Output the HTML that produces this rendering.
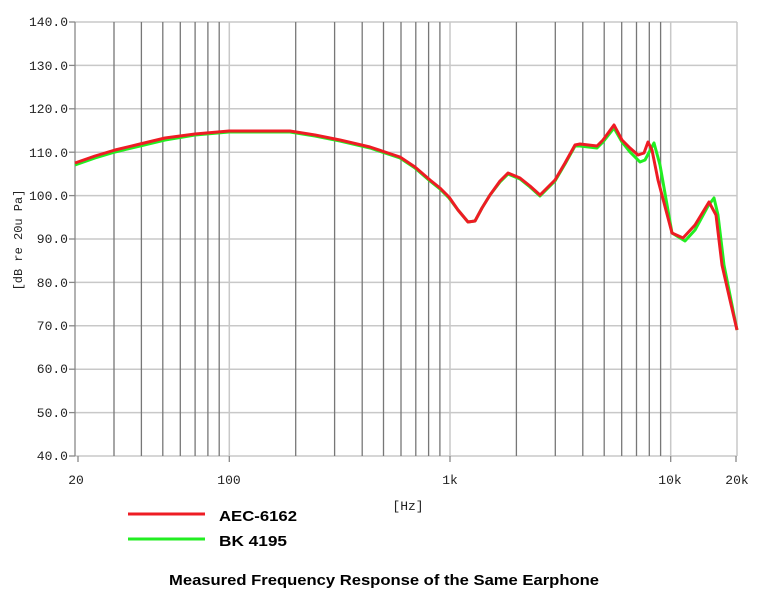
<!DOCTYPE html>
<html><head><meta charset="utf-8"><style>
body{margin:0;background:#fff;width:757px;height:598px;overflow:hidden}
.m{font-family:"Liberation Mono",monospace}
.s{font-family:"Liberation Sans",sans-serif;font-weight:bold}
</style></head><body>
<svg width="757" height="598" viewBox="0 0 757 598" xmlns="http://www.w3.org/2000/svg">
<rect width="757" height="598" fill="#fff"/>
<g stroke="#c8c8c8" stroke-width="1.5">
<line x1="75" y1="22" x2="737" y2="22"/><line x1="75" y1="65.4" x2="737" y2="65.4"/>
<line x1="75" y1="108.8" x2="737" y2="108.8"/><line x1="75" y1="152.2" x2="737" y2="152.2"/>
<line x1="75" y1="195.6" x2="737" y2="195.6"/><line x1="75" y1="239" x2="737" y2="239"/>
<line x1="75" y1="282.4" x2="737" y2="282.4"/><line x1="75" y1="325.8" x2="737" y2="325.8"/>
<line x1="75" y1="369.2" x2="737" y2="369.2"/><line x1="75" y1="412.6" x2="737" y2="412.6"/>
<line x1="75" y1="456" x2="737" y2="456"/>
<line x1="229.3" y1="22" x2="229.3" y2="456"/><line x1="450" y1="22" x2="450" y2="456"/>
<line x1="670.7" y1="22" x2="670.7" y2="456"/><line x1="737" y1="22" x2="737" y2="456"/>
</g>
<g stroke="#777" stroke-width="1.3">
<line x1="114" y1="22" x2="114" y2="456"/><line x1="141.4" y1="22" x2="141.4" y2="456"/>
<line x1="162.8" y1="22" x2="162.8" y2="456"/><line x1="180.3" y1="22" x2="180.3" y2="456"/>
<line x1="195.1" y1="22" x2="195.1" y2="456"/><line x1="207.9" y1="22" x2="207.9" y2="456"/>
<line x1="219.2" y1="22" x2="219.2" y2="456"/>
<line x1="295.7" y1="22" x2="295.7" y2="456"/><line x1="334.6" y1="22" x2="334.6" y2="456"/>
<line x1="362.2" y1="22" x2="362.2" y2="456"/><line x1="383.5" y1="22" x2="383.5" y2="456"/>
<line x1="401" y1="22" x2="401" y2="456"/><line x1="415.8" y1="22" x2="415.8" y2="456"/>
<line x1="428.6" y1="22" x2="428.6" y2="456"/><line x1="439.9" y1="22" x2="439.9" y2="456"/>
<line x1="516.4" y1="22" x2="516.4" y2="456"/><line x1="555.3" y1="22" x2="555.3" y2="456"/>
<line x1="582.8" y1="22" x2="582.8" y2="456"/><line x1="604.2" y1="22" x2="604.2" y2="456"/>
<line x1="621.7" y1="22" x2="621.7" y2="456"/><line x1="636.5" y1="22" x2="636.5" y2="456"/>
<line x1="649.3" y1="22" x2="649.3" y2="456"/><line x1="660.6" y1="22" x2="660.6" y2="456"/>
</g>
<g stroke="#888" stroke-width="1.3">
<line x1="75" y1="22" x2="75" y2="456"/>
<line x1="69" y1="22" x2="75" y2="22"/><line x1="69" y1="65.4" x2="75" y2="65.4"/>
<line x1="69" y1="108.8" x2="75" y2="108.8"/><line x1="69" y1="152.2" x2="75" y2="152.2"/>
<line x1="69" y1="195.6" x2="75" y2="195.6"/><line x1="69" y1="239" x2="75" y2="239"/>
<line x1="69" y1="282.4" x2="75" y2="282.4"/><line x1="69" y1="325.8" x2="75" y2="325.8"/>
<line x1="69" y1="369.2" x2="75" y2="369.2"/><line x1="69" y1="412.6" x2="75" y2="412.6"/>
<line x1="69" y1="456" x2="75" y2="456"/>
<line x1="78" y1="456" x2="78" y2="462"/><line x1="229.3" y1="456" x2="229.3" y2="462"/>
<line x1="450" y1="456" x2="450" y2="462"/><line x1="670.7" y1="456" x2="670.7" y2="462"/>
<line x1="736" y1="456" x2="736" y2="462"/>
</g>
<g class="m" font-size="13" fill="#222" text-anchor="end">
<text x="68" y="26">140.0</text><text x="68" y="70">130.0</text><text x="68" y="113">120.0</text>
<text x="68" y="157">110.0</text><text x="68" y="200">100.0</text><text x="68" y="243">90.0</text>
<text x="68" y="287">80.0</text><text x="68" y="330">70.0</text><text x="68" y="373">60.0</text>
<text x="68" y="417">50.0</text><text x="68" y="460">40.0</text>
</g>
<g class="m" font-size="13" fill="#222" text-anchor="middle">
<text x="76" y="484">20</text><text x="229" y="484">100</text><text x="450" y="484">1k</text>
<text x="670" y="484">10k</text><text x="737" y="484">20k</text>
<text x="408" y="510">[Hz]</text>
</g>
<text class="m" font-size="12" fill="#222" text-anchor="middle" transform="translate(22,240) rotate(-90)">[dB re 20u Pa]</text>
<polyline fill="none" stroke="#22ee22" stroke-width="3" stroke-linejoin="round" points="75,165 95,158 115,152 140,146 165,140 195,135 229,132 260,132 290,132 315,136 340,141 370,148 400,158 415,168 430,181 440,189 449,198 458,210 468,222 475,221 482,208 490,195 500,182 508,174 520,179 530,187 540,196 555,181 565,164 575,146 580,146 597,148 603,142 614,128 622,142 630,152 640,162 645,160 654,143 660,165 672,233 685,241 695,230 708,206 714,198 718,215 724,265 731,300 737,330"/>
<polyline fill="none" stroke="#ee1c24" stroke-width="3" stroke-linejoin="round" points="75,163 95,156 115,150 140,144 165,138 195,134 229,131 260,131 290,131 315,135 340,140 370,147 400,157 415,167 430,180 440,188 449,197 458,210 468,222 475,221 482,208 490,195 500,181 508,173 520,178 530,186 540,195 555,180 565,163 575,145 580,144 597,146 603,140 614,125 622,140 630,148 638,155 644,153 648,142 652,150 658,180 672,233 683,238 695,225 709,202 716,215 722,265 730,300 737,330"/>
<line x1="128" y1="514" x2="205" y2="514" stroke="#ee1c24" stroke-width="3"/>
<line x1="128" y1="539" x2="205" y2="539" stroke="#22ee22" stroke-width="3"/>
<g class="s" fill="#000">
<text x="219" y="521" font-size="15" textLength="78" lengthAdjust="spacingAndGlyphs">AEC-6162</text>
<text x="219" y="546" font-size="15" textLength="68" lengthAdjust="spacingAndGlyphs">BK 4195</text>
<text x="169" y="585" font-size="15" textLength="430" lengthAdjust="spacingAndGlyphs">Measured Frequency Response of the Same Earphone</text>
</g>
</svg>
</body></html>
